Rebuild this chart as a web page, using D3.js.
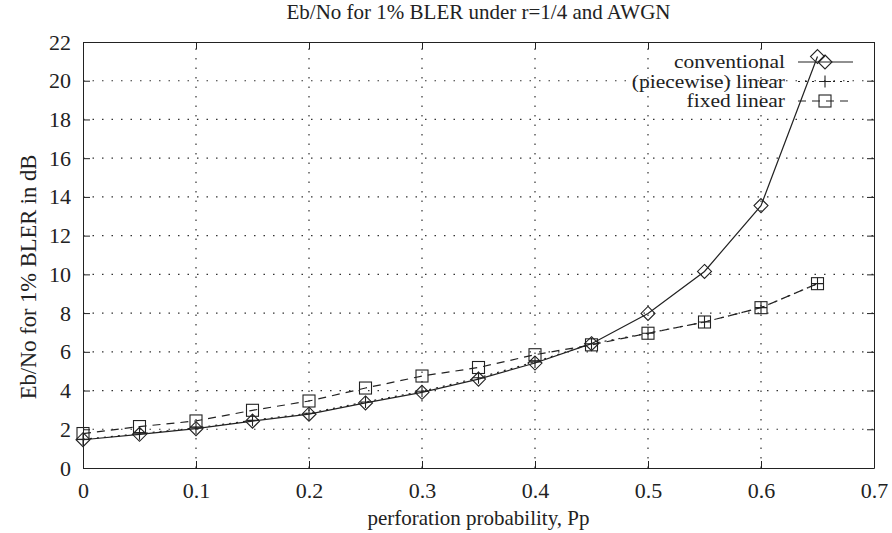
<!DOCTYPE html>
<html>
<head>
<meta charset="utf-8">
<script src="https://cdn.jsdelivr.net/npm/d3@7"></script>
<style>
  body { margin: 0; background: #fff; }
  text { font-family: "Liberation Serif", "DejaVu Serif", serif; fill: #222; }
</style>
</head>
<body>
<svg id="chart" width="892" height="533"></svg>
<script>
// data
var pp = [0, 0.05, 0.1, 0.15, 0.2, 0.25, 0.3, 0.35, 0.4, 0.45, 0.5, 0.55, 0.6, 0.65];
var conventional = [1.46, 1.74, 2.03, 2.42, 2.78, 3.36, 3.91, 4.59, 5.42, 6.42, 7.98, 10.15, 13.55, 21.25];
var piecewise = [1.48, 1.77, 2.07, 2.46, 2.83, 3.41, 3.96, 4.66, 5.48, 6.42, 6.96, 7.54, 8.28, 9.52];
var fixedLinear = [1.78, 2.14, 2.43, 2.98, 3.46, 4.13, 4.75, 5.19, 5.85, 6.36, 6.96, 7.54, 8.28, 9.52];
var xTicks = [0, 0.1, 0.2, 0.3, 0.4, 0.5, 0.6, 0.7];
var yTicks = [0, 2, 4, 6, 8, 10, 12, 14, 16, 18, 20, 22];
var seriesNames = ["conventional", "(piecewise) linear", "fixed linear"];

var svg = d3.select("#chart");
var pLeft = 83, pRight = 874, pTop = 42, pBottom = 468;

var x = d3.scaleLinear().domain([0, 0.7]).range([pLeft, pRight]);
var y = d3.scaleLinear().domain([0, 22]).range([pBottom, pTop]);

// grid
var grid = svg.append("g").attr("stroke", "#333").attr("stroke-width", 1.2)
	.attr("stroke-dasharray", "1.5,8");
grid.selectAll("line.gx").data(xTicks.slice(1, -1)).enter().append("line")
	.attr("x1", function(d) { return x(d) }).attr("x2", function(d) { return x(d) })
	.attr("y1", pBottom).attr("y2", pTop);
grid.selectAll("line.gy").data(yTicks.slice(1, -1)).enter().append("line")
	.attr("y1", function(d) { return y(d) }).attr("y2", function(d) { return y(d) })
	.attr("x1", pLeft).attr("x2", pRight);

// axes, ticks inward and mirrored
var fmtX = function(d) { return d === 0 ? "0" : d3.format(".1f")(d) };
svg.append("g").attr("transform", "translate(0," + pBottom + ")")
	.call(d3.axisBottom(x).tickValues(xTicks).tickFormat(fmtX).tickSizeInner(-7).tickSizeOuter(0).tickPadding(14));
svg.append("g").attr("transform", "translate(0," + pTop + ")")
	.call(d3.axisTop(x).tickValues(xTicks).tickFormat("").tickSizeInner(-7).tickSizeOuter(0));
svg.append("g").attr("transform", "translate(" + pLeft + ",0)")
	.call(d3.axisLeft(y).tickValues(yTicks).tickSizeInner(-7).tickSizeOuter(0).tickPadding(12));
svg.append("g").attr("transform", "translate(" + pRight + ",0)")
	.call(d3.axisRight(y).tickValues(yTicks).tickFormat("").tickSizeInner(-7).tickSizeOuter(0));

svg.selectAll(".domain").attr("stroke", "#222");
svg.selectAll(".tick line").attr("stroke", "#222");
svg.selectAll(".tick text").style("font-family", "Liberation Serif, serif")
	.style("font-size", "22px").attr("fill", "#222");

// titles
svg.append("text").attr("x", (pLeft + pRight) / 2).attr("y", 19).attr("text-anchor", "middle")
	.style("font-size", "21px").text("Eb/No for 1% BLER under r=1/4 and AWGN");
svg.append("text").attr("x", (pLeft + pRight) / 2).attr("y", 525).attr("text-anchor", "middle")
	.style("font-size", "21px").text("perforation probability, Pp");
svg.append("text").attr("transform", "translate(36,277) rotate(-90)")
	.attr("text-anchor", "middle").style("font-size", "22.5px").text("Eb/No for 1% BLER in dB");

// markers
function diamond(g, cx, cy) {
	g.append("path").attr("d", "M" + cx + "," + (cy - 7) + "L" + (cx + 7) + "," + cy + "L" + cx + "," + (cy + 7) + "L" + (cx - 7) + "," + cy + "Z")
		.attr("fill", "none").attr("stroke", "#222").attr("stroke-width", 1.1);
}
function plus(g, cx, cy) {
	g.append("path").attr("d", "M" + (cx - 6) + "," + cy + "H" + (cx + 6) + "M" + cx + "," + (cy - 6) + "V" + (cy + 6))
		.attr("fill", "none").attr("stroke", "#222").attr("stroke-width", 1.1);
}
function square(g, cx, cy) {
	g.append("rect").attr("x", cx - 6).attr("y", cy - 6).attr("width", 12).attr("height", 12)
		.attr("fill", "none").attr("stroke", "#222").attr("stroke-width", 1.1);
}

var series = [
	{ name: seriesNames[0], values: conventional, dash: null, mark: diamond },
	{ name: seriesNames[1], values: piecewise, dash: "2,5", mark: plus },
	{ name: seriesNames[2], values: fixedLinear, dash: "8,6", mark: square }
];

var line = d3.line().x(function(d) { return x(d[0]) }).y(function(d) { return y(d[1]) });

series.forEach(function(s) {
	var g = svg.append("g");
	g.append("path").datum(d3.zip(pp, s.values)).attr("d", line)
		.attr("fill", "none").attr("stroke", "#222").attr("stroke-width", 1.2)
		.attr("stroke-dasharray", s.dash);
	pp.forEach(function(p, i) { s.mark(g, x(p), y(s.values[i])) });
});

// legend (text a bit wider than the font gives, like the reference)
var legX = 785, legY = 62, legGap = 19.5;
series.forEach(function(s, i) {
	var g = svg.append("g");
	var ly = legY + i * legGap;
	var t = g.append("text").attr("x", legX).attr("y", ly).attr("dy", "0.33em").attr("text-anchor", "end")
		.style("font-size", "19px").text(s.name);
	var w = t.node().getComputedTextLength();
	t.attr("textLength", w * 1.13).attr("lengthAdjust", "spacingAndGlyphs");
	g.append("line").attr("x1", 798).attr("x2", 853).attr("y1", ly).attr("y2", ly)
		.attr("stroke", "#222").attr("stroke-width", 1.2).attr("stroke-dasharray", s.dash);
	s.mark(g, 825, ly);
});
</script>
</body>
</html>
